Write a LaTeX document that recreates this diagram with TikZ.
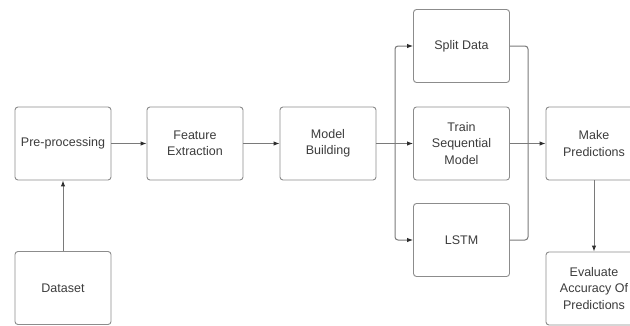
\documentclass[tikz,border=0pt]{standalone}
\usepackage{fontspec}
\setmainfont{Liberation Sans}
\usetikzlibrary{arrows.meta}
\definecolor{boxline}{HTML}{8C8C8C}
\definecolor{txt}{HTML}{3C3C3C}
\definecolor{wire}{HTML}{7A7A7A}
\definecolor{tip}{HTML}{2E2E2E}
\tikzset{
  stage/.style={draw=boxline, line width=0.9pt, rounded corners=3pt, fill=white,
    minimum width=96pt, minimum height=73pt, inner sep=1pt, align=center,
    text=txt, font=\fontsize{12.5}{16.5}\selectfont},
  wireline/.style={draw=wire, line width=1pt},
  flow/.style={wireline, -{Latex[length=6pt,width=4.5pt,fill=tip,color=tip]}},
}
\begin{document}
\begin{tikzpicture}[x=1pt,y=-1pt]
\useasboundingbox[fill=white] (0,0) rectangle (630,325);

\node[stage] (pre)   at (63,143.5)  {Pre-processing};
\node[stage] (feat)  at (195,143.5) {Feature\\Extraction};
\node[stage] (build) at (328,143.5) {Model\\Building};
\node[stage] (split) at (461.5,46)  {Split Data};
\node[stage] (train) at (461.5,143.5) {Train\\Sequential\\Model};
\node[stage] (lstm)  at (461.5,240) {LSTM};
\node[stage] (make)  at (594,143.5) {Make\\Predictions};
\node[stage] (eval)  at (594,288.5) {Evaluate\\Accuracy Of\\Predictions};
\node[stage] (data)  at (63,288)    {Dataset};

\coordinate (fork) at (395,143.5);
\coordinate (join) at (528,143.5);

\draw[flow] (data) -- (pre);
\draw[flow] (pre) -- (feat);
\draw[flow] (feat) -- (build);
\draw[flow] (build) -- (train);
\draw[flow, rounded corners=3pt] (fork) |- (split.west);
\draw[flow, rounded corners=3pt] (fork) |- (lstm.west);
\draw[wireline, rounded corners=3pt] (split.east) -| (join);
\draw[wireline, rounded corners=3pt] (lstm.east) -| (join);
\draw[flow] (train) -- (make);
\draw[flow] (make) -- (eval);
\end{tikzpicture}
\end{document}
